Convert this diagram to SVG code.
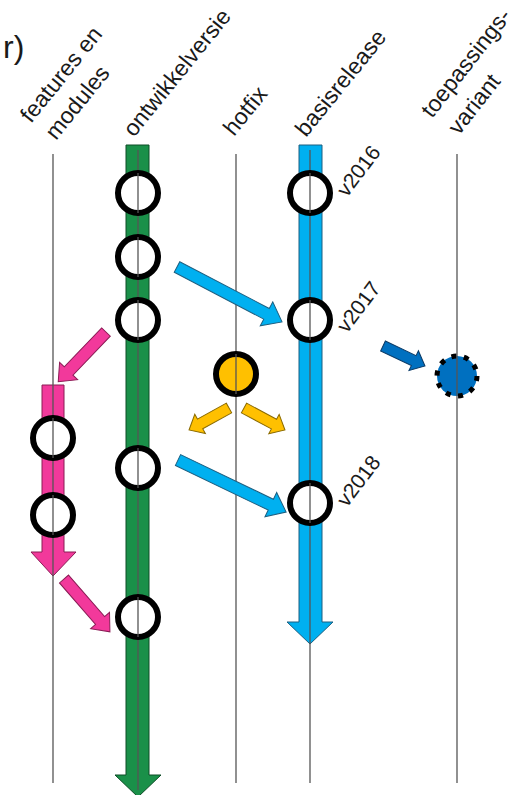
<svg xmlns="http://www.w3.org/2000/svg" width="516" height="795" viewBox="0 0 516 795">
  <style>
    .lane { stroke: #555; stroke-width: 1.3; fill: none; }
    .head { font-family: "Liberation Sans", Arial, sans-serif; font-size: 23px; fill: #1a1a1a; }
    .ver { font-family: "Liberation Sans", Arial, sans-serif; font-size: 21px; fill: #1a1a1a; }
    .commit { fill: #fff; stroke: #000; stroke-width: 6; }
    .green { fill: #1a9049; stroke: #0d4d26; stroke-width: 1; }
    .blue { fill: #00b0f0; stroke: #1d5f80; stroke-width: 1; }
    .pink { fill: #f2399b; stroke: #8a1d55; stroke-width: 1; }
    .orange { fill: #ffc000; stroke: #8a6a00; stroke-width: 1; }
    .navy { fill: #0070c0; stroke: #0a3a66; stroke-width: 1; }
  </style>

  <!-- panel letter -->
  <text x="3" y="58" font-family="Liberation Sans, Arial, sans-serif" font-size="32" fill="#1a1a1a">r)</text>

  <!-- lane titles -->
  <g id="titles">
    <text class="head" transform="translate(31,124) rotate(-51)">features en</text>
    <text class="head" transform="translate(56,141) rotate(-51)">modules</text>
    <text class="head" transform="translate(134,138) rotate(-51)">ontwikkelversie</text>
    <text class="head" transform="translate(234,137) rotate(-51)">hotfix</text>
    <text class="head" transform="translate(306,138) rotate(-51)">basisrelease</text>
    <text class="head" transform="translate(432,119) rotate(-52)" font-size="22">toepassings-</text>
    <text class="head" transform="translate(459,136) rotate(-52)" font-size="22">variant</text>
  </g>

  <!-- branch bars -->
  <g id="branches">
    <path id="bar-ontwikkel" class="green" d="M126,145 H149 V775 H161 L138,797 L115,775 H126 Z"/>
    <path id="bar-basis" class="blue" d="M299,145 H322 V622 H333 L310,644 L287,622 H299 Z"/>
    <path id="bar-features" class="pink" d="M42,385 H64 V552 H76 L53,576 L31,552 H42 Z"/>
  </g>

  <!-- lanes -->
  <g id="lanes">
    <line class="lane" x1="53" y1="154" x2="53" y2="783"/>
    <line class="lane" x1="138" y1="150" x2="138" y2="790"/>
    <line class="lane" x1="236" y1="154" x2="236" y2="783"/>
    <line class="lane" x1="310" y1="150" x2="310" y2="783"/>
    <line class="lane" x1="457" y1="154" x2="457" y2="783"/>
  </g>

  <!-- merge connectors -->
  <g id="connectors">
    <path class="blue" transform="translate(177,267) rotate(27.6)" d="M0,-6 L101,-6 L101,-13.5 L118.5,0 L101,13.5 L101,6 L0,6 Z"/>
    <path class="blue" transform="translate(178,460) rotate(25.7)" d="M0,-6 L103,-6 L103,-13.5 L120,0 L103,13.5 L103,6 L0,6 Z"/>
    <path class="pink" transform="translate(106,332) rotate(133.8)" d="M0,-6 L54,-6 L54,-12.5 L69,0 L54,12.5 L54,6 L0,6 Z"/>
    <path class="pink" transform="translate(64,579) rotate(49)" d="M0,-6 L55,-6 L55,-12.5 L70,0 L55,12.5 L55,6 L0,6 Z"/>
    <path class="orange" transform="translate(229,408) rotate(151.2)" d="M0,-5.5 L33,-5.5 L33,-11 L45.6,0 L33,11 L33,5.5 L0,5.5 Z"/>
    <path class="orange" transform="translate(244,408) rotate(28.2)" d="M0,-5.5 L34,-5.5 L34,-11 L46.5,0 L34,11 L34,5.5 L0,5.5 Z"/>
    <path class="navy" transform="translate(383,346) rotate(25.5)" d="M0,-5.5 L34,-5.5 L34,-11 L46.5,0 L34,11 L34,5.5 L0,5.5 Z"/>
  </g>

  <!-- commits on ontwikkelversie -->
  <g id="dev-1"><circle class="commit" cx="138" cy="193" r="20"/><line class="lane" x1="138" y1="173" x2="138" y2="213"/></g>
  <g id="dev-2"><circle class="commit" cx="138" cy="257" r="20"/><line class="lane" x1="138" y1="237" x2="138" y2="277"/></g>
  <g id="dev-3"><circle class="commit" cx="138" cy="320" r="20"/><line class="lane" x1="138" y1="300" x2="138" y2="340"/></g>
  <g id="dev-4"><circle class="commit" cx="138" cy="468" r="20"/><line class="lane" x1="138" y1="448" x2="138" y2="488"/></g>
  <g id="dev-5"><circle class="commit" cx="138" cy="617" r="20"/><line class="lane" x1="138" y1="597" x2="138" y2="637"/></g>

  <!-- commits on features en modules -->
  <g id="feat-1"><circle class="commit" cx="53" cy="438" r="20"/><line class="lane" x1="53" y1="418" x2="53" y2="458"/></g>
  <g id="feat-2"><circle class="commit" cx="53" cy="515" r="20"/><line class="lane" x1="53" y1="495" x2="53" y2="535"/></g>

  <!-- releases on basisrelease -->
  <g id="rel-2016">
    <circle class="commit" cx="310" cy="193" r="20"/><line class="lane" x1="310" y1="173" x2="310" y2="213"/>
    <text class="ver" transform="translate(347,198) rotate(-53)">v2016</text>
  </g>
  <g id="rel-2017">
    <circle class="commit" cx="310" cy="320" r="20"/><line class="lane" x1="310" y1="300" x2="310" y2="340"/>
    <text class="ver" transform="translate(347,334) rotate(-53)">v2017</text>
  </g>
  <g id="rel-2018">
    <circle class="commit" cx="310" cy="503" r="20"/><line class="lane" x1="310" y1="483" x2="310" y2="523"/>
    <text class="ver" transform="translate(347,508) rotate(-53)">v2018</text>
  </g>

  <!-- hotfix -->
  <g id="hotfix">
    <circle cx="236" cy="374" r="20" fill="#ffc000" stroke="#000" stroke-width="6"/>
    <line class="lane" x1="236" y1="354" x2="236" y2="394"/>
  </g>

  <!-- application variant -->
  <g id="variant">
    <circle cx="457" cy="376" r="20" fill="#0070c0" stroke="#000" stroke-width="5" stroke-dasharray="5 7.57"/>
    <line class="lane" x1="457" y1="356" x2="457" y2="396"/>
  </g>
</svg>
